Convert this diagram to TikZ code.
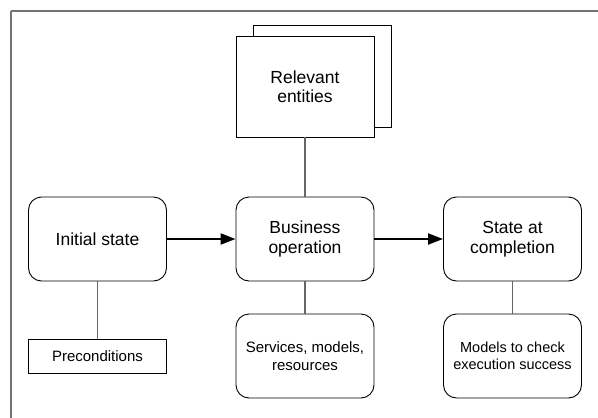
\documentclass[tikz,border=0pt]{standalone}
\usepackage{fontspec}
\setmainfont{Liberation Sans}
\usetikzlibrary{arrows.meta}
\begin{document}
\begin{tikzpicture}[x=1pt, y=-1pt,
        statebox/.style={draw, line width=0.9pt, rounded corners=13pt, minimum width=138pt, minimum height=84pt, align=center, font=\fontsize{17.5}{20}\selectfont},
        infobox/.style={draw, line width=0.9pt, rounded corners=13pt, minimum width=138pt, minimum height=84pt, align=center, font=\fontsize{15}{18.5}\selectfont},
        link/.style={draw=black!60, line width=1.2pt},
        flow/.style={line width=2pt, -{Triangle[length=15pt, width=11pt]}}]
    \useasboundingbox (0,0) rectangle (598,418);

    % Frame
        \draw[black!55, line width=1.5pt] (11,11) -- (11,425);
        \draw[black!55, line width=1.5pt] (11,11) -- (605,11);

    % Relevant entities (stacked sheets)
        \draw[line width=0.9pt, fill=white] (253,25) rectangle (391,127);
        \node[draw, line width=0.9pt, fill=white, minimum width=138pt, minimum height=101pt, align=center, font=\fontsize{17.5}{19.5}\selectfont] (entities) at (305,86.5) {Relevant\\entities};

    % Main row
        \node[statebox] (init) at (97.5,239) {Initial state};
        \node[statebox] (bizop) at (305,239) {Business\\operation};
        \node[statebox] (done) at (512.5,239) {State at\\completion};

    % Bottom row
        \node[draw, line width=0.9pt, minimum width=138pt, minimum height=34pt, font=\fontsize{15}{18.5}\selectfont] (precond) at (97.5,356.5) {Preconditions};
        \node[infobox] (services) at (305,356) {Services, models,\\resources};
        \node[infobox, font=\fontsize{14.5}{17}\selectfont] (checks) at (512.5,356) {Models to check\\execution success};

    % Connectors
        \draw[link] (entities) -- (bizop);
        \draw[link] (init) -- (precond);
        \draw[link] (bizop) -- (services);
        \draw[link] (done) -- (checks);

    % Flow arrows
        \draw[flow] (init) -- (bizop);
        \draw[flow] (bizop) -- (done);

\end{tikzpicture}
\end{document}
